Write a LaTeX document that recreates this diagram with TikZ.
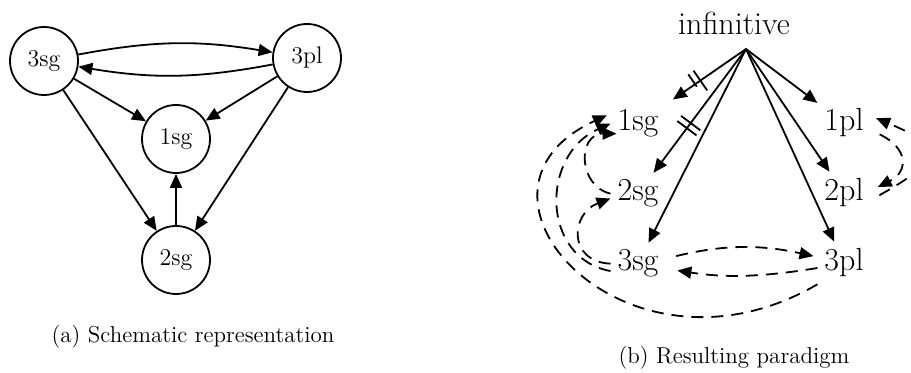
\documentclass[tikz,border=0pt]{standalone}
\usetikzlibrary{arrows.meta,decorations.markings}
\newcommand{\px}{0.5pt}

\begin{document}
\begin{tikzpicture}[x=\px, y=\px, >={Triangle[length=7pt,width=6pt]},
    cell/.style={draw, circle, line width=0.9pt, minimum size=34pt, inner sep=0pt, font=\fontsize{12}{14}\selectfont},
    form/.style={anchor=base, font=\fontsize{16}{19}\selectfont},
    link/.style={->, line width=0.9pt},
    dlink/.style={->, line width=0.9pt, dash pattern=on 6pt off 4pt},
    blocked/.style={postaction={decorate, decoration={markings, mark=at position #1 with {\draw[-, solid, line width=0.9pt] (-1.6pt,-6pt) -- (-1.6pt,6pt) (1.6pt,-6pt) -- (1.6pt,6pt);}}}},
    caption/.style={font=\fontsize{11.5}{14}\selectfont}]
    \useasboundingbox (0,0) rectangle (911,373);
    \clip (0,0) rectangle (911,373);

    % Schematic representation
    \node[cell] (a-3sg) at (44,312) {3sg};
    \node[cell] (a-3pl) at (307,315) {3pl};
    \node[cell] (a-1sg) at (176,234) {1sg};
    \node[cell] (a-2sg) at (176,113) {2sg};
    \node[caption] (a-cap) at (193,36) {(a) Schematic representation};

    \draw[link] (a-3sg) to[bend left=10] (a-3pl);
    \draw[link] (a-3pl) to[bend left=10] (a-3sg);
    \draw[link] (a-3sg) -- (a-1sg);
    \draw[link] (a-3pl) -- (a-1sg);
    \draw[link] (a-3sg) -- (a-2sg);
    \draw[link] (a-3pl) -- (a-2sg);
    \draw[link] (a-2sg) -- (a-1sg);

    % Resulting paradigm
    \node[form] (b-inf) at (734,338) {infinitive};
    \coordinate (b-root) at (746,324);
    \node[form] (b-1sg) at (638,242) {1sg};
    \node[form] (b-2sg) at (638,172) {2sg};
    \node[form] (b-3sg) at (638,102) {3sg};
    \node[form] (b-1pl) at (844,242) {1pl};
    \node[form] (b-2pl) at (844,172) {2pl};
    \node[form] (b-3pl) at (844,102) {3pl};
    \node[caption] (b-cap) at (734,15) {(b) Resulting paradigm};

    \draw[link, blocked=0.6, shorten >=4.5pt] (b-root) -- (b-1sg);
    \draw[link, blocked=0.62] (b-root) -- (b-2sg);
    \draw[link] (b-root) -- (b-3sg);
    \draw[link] (b-root) -- (b-1pl);
    \draw[link] (b-root) -- (b-2pl);
    \draw[link] (b-root) -- (b-3pl);

    % 3sg <-> 3pl
    \draw[dlink, shorten <=5.5pt, shorten >=2pt] ([yshift=2.5pt]b-3sg.east) to[bend left=13] ([yshift=3pt]b-3pl.west);
    \draw[dlink, shorten >=6pt] ([yshift=-2.5pt]b-3pl.west) to[bend left=9] ([yshift=-2.5pt]b-3sg.east);

    % loops on the left
    \draw[dlink, shorten >=2pt] (b-3pl.south west) .. controls +(-192,-112) and +(-170,-78) .. (b-1sg.160);
    \draw[dlink] (b-3sg.195) .. controls +(-70,13) and +(-70,-31) .. (b-1sg.west);
    \draw[dlink, shorten >=-3pt] (b-2sg.west) .. controls +(-33,8) and +(-33,0) .. (b-1sg.200);
    \draw[dlink] (b-3sg.west) .. controls +(-43,2) and +(-40,-15) .. (b-2sg.190);

    % 1pl <-> 2pl
    \draw[dlink, shorten <=5pt, shorten >=4pt] (b-1pl.345) .. controls +(38,-18) and +(38,19) .. (b-2pl.5);
    \draw[dlink, shorten <=5pt, shorten >=3pt] (b-2pl.345) .. controls +(72,40) and +(72,-30) .. (b-1pl.15);

\end{tikzpicture}
\end{document}
